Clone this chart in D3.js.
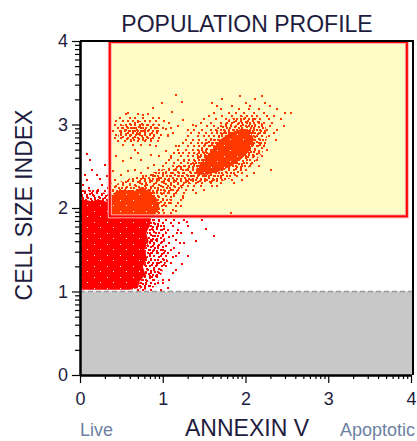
<!DOCTYPE html>
<html><head><meta charset="utf-8">
<script src="https://cdn.jsdelivr.net/npm/d3@7"></script>
<style>body{margin:0;background:#fff}svg{display:block;font-family:Arial,"Liberation Sans",sans-serif}</style>
</head><body><svg id="chart" width="417" height="441"></svg>
<script>
// axis ticks (decades, log minor ticks)
var xTicks = [0,1,2,3,4];
var yTicks = [0,1,2,3,4];
var minorSteps = [2,3,4,5,6,7,8,9];

// gate region and negative region
var gate = {x0:0.36, x1:3.95, y0:1.9, y1:4};
var cutoff = 1;

// dense cores (data units)
var liveCore = [[0.01,1.02],[0.01,2.06],[0.06,2.10],[0.14,2.08],[0.24,2.10],[0.34,2.07],[0.40,1.98],[0.50,1.94],[0.62,1.91],[0.75,1.90],[0.86,1.87],[0.84,1.78],[0.80,1.70],[0.83,1.60],[0.78,1.50],[0.81,1.40],[0.76,1.30],[0.79,1.20],[0.72,1.12],[0.70,1.04],[0.60,1.02]];
var bandCore = [[0.38,1.92],[0.38,2.14],[0.44,2.20],[0.54,2.22],[0.64,2.19],[0.74,2.25],[0.84,2.21],[0.92,2.12],[0.96,2.00],[0.90,1.92]];
var apoCore = [[1.40,2.46],[1.50,2.58],[1.60,2.70],[1.70,2.82],[1.82,2.90],[1.96,2.95],[2.06,2.92],[2.10,2.82],[2.04,2.68],[1.94,2.58],[1.82,2.50],[1.68,2.44],[1.54,2.40],[1.42,2.40]];

// medium-density areas around the cores (data units)
var apoHalo = [[1.20,2.36],[1.30,2.50],[1.42,2.66],[1.54,2.82],[1.66,2.96],[1.80,3.06],[1.96,3.10],[2.12,3.08],[2.24,2.98],[2.26,2.84],[2.20,2.66],[2.08,2.52],[1.94,2.42],[1.78,2.34],[1.60,2.30],[1.42,2.28],[1.28,2.30]];
var bandHalo = [[0.38,1.92],[0.38,2.24],[0.50,2.32],[0.66,2.37],[0.84,2.41],[1.00,2.46],[1.16,2.50],[1.30,2.52],[1.40,2.44],[1.36,2.32],[1.20,2.22],[1.08,2.10],[1.00,1.96],[0.94,1.92]];
var upperHalo = [[0.46,2.86],[0.50,2.98],[0.62,3.04],[0.78,3.04],[0.92,3.00],[0.98,2.90],[0.88,2.82],[0.70,2.80],[0.54,2.82]];
var liveHalo = [[0.84,1.88],[0.96,1.86],[1.04,1.74],[1.02,1.56],[1.06,1.40],[0.98,1.20],[0.92,1.06],[0.80,1.02],[0.70,1.04],[0.72,1.12],[0.79,1.20],[0.76,1.30],[0.81,1.40],[0.78,1.50],[0.83,1.60],[0.80,1.70],[0.84,1.78]];
var liveTopHalo = [[0.01,2.04],[0.01,2.20],[0.10,2.22],[0.24,2.21],[0.34,2.16],[0.36,2.06],[0.20,2.06]];

// events listed row by row: [y, [x, x, ...]]
var liveRows = [
  [2.20,[0.04,0.12,0.22,0.30]],[2.16,[0.02,0.08,0.16,0.26,0.34]],[2.12,[0.04,0.10,0.18,0.24,0.30]],[2.08,[0.02,0.06,0.14,0.20,0.28,0.34]],
  [1.86,[0.88,0.96,1.04,1.14,1.26]],[1.82,[0.90,1.00,1.10,1.20]],[1.78,[0.86,0.94,1.02,1.12,1.30]],[1.74,[0.88,0.98,1.06,1.18]],
  [1.70,[0.84,0.92,1.04,1.22]],[1.66,[0.88,0.94,1.00,1.12]],[1.62,[0.86,0.92,1.02,1.16]],[1.58,[0.84,0.90,0.98,1.08,1.26]],
  [1.54,[0.82,0.88,0.94,1.04]],[1.50,[0.84,0.90,1.00,1.10]],[1.46,[0.82,0.86,0.94,1.06,1.20]],[1.42,[0.84,0.90,0.98,1.16]],
  [1.38,[0.80,0.86,0.94,1.02]],[1.34,[0.82,0.88,0.96,1.10]],[1.30,[0.80,0.84,0.92,1.04]],[1.26,[0.82,0.90,0.98]],
  [1.22,[0.80,0.86,0.96,1.12]],[1.18,[0.78,0.84,0.92]],[1.14,[0.76,0.80,0.88,1.00]],[1.10,[0.74,0.80,0.86,0.94]],
  [1.06,[0.72,0.78,0.84]],[1.02,[0.70,0.76,0.86,0.98]]];
var apoRows = [
  [3.34,[1.93,2.20]],[3.30,[1.72,2.12]],[3.26,[1.60,2.00,2.24]],[3.22,[1.66,1.84,2.05,2.30]],[3.18,[1.70,1.92,2.04,2.16,2.38]],
  [3.14,[1.62,1.80,1.88,1.98,2.10,2.22,2.48,2.55]],[3.10,[1.56,1.72,1.84,1.94,2.02,2.08,2.14,2.26,2.35]],
  [3.06,[1.50,1.64,1.76,1.86,1.90,1.98,2.04,2.12,2.18,2.28,2.43]],[3.02,[1.46,1.58,1.70,1.78,1.84,1.92,1.96,2.02,2.06,2.10,2.16,2.22,2.32]],
  [2.98,[1.40,1.54,1.62,1.70,1.76,1.82,1.88,1.94,2.00,2.04,2.08,2.12,2.20,2.30,2.46]],
  [2.94,[1.38,1.48,1.58,1.64,1.70,1.74,1.80,1.86,1.90,1.96,2.02,2.06,2.10,2.14,2.18,2.26,2.38]],
  [2.90,[1.34,1.44,1.52,1.60,1.66,1.70,1.76,1.82,1.88,1.92,1.98,2.04,2.08,2.12,2.16,2.22,2.34]],
  [2.86,[1.30,1.42,1.50,1.56,1.62,1.68,1.72,1.78,1.84,1.90,1.94,2.00,2.06,2.10,2.14,2.20,2.28]],
  [2.82,[1.28,1.36,1.44,1.52,1.58,1.62,1.68,1.74,1.80,1.84,1.90,1.96,2.02,2.06,2.12,2.18,2.37]],
  [2.78,[1.24,1.34,1.42,1.48,1.54,1.60,1.64,1.70,1.76,1.82,1.88,1.92,1.98,2.04,2.10,2.16,2.24]],
  [2.74,[1.20,1.30,1.38,1.44,1.50,1.56,1.62,1.66,1.72,1.78,1.84,1.90,1.96,2.02,2.08,2.14,2.22]],
  [2.70,[1.18,1.28,1.36,1.42,1.48,1.52,1.58,1.64,1.70,1.74,1.80,1.86,1.92,1.98,2.06,2.12,2.26]],
  [2.66,[1.14,1.24,1.32,1.38,1.44,1.50,1.54,1.60,1.66,1.72,1.78,1.84,1.90,1.96,2.04,2.16]],
  [2.62,[1.10,1.22,1.30,1.36,1.42,1.46,1.52,1.58,1.64,1.70,1.76,1.82,1.88,1.94,2.00,2.10,2.20]],
  [2.58,[1.08,1.18,1.26,1.32,1.38,1.44,1.50,1.56,1.60,1.66,1.72,1.78,1.84,1.92,2.02,2.14]],
  [2.54,[1.04,1.14,1.22,1.30,1.36,1.40,1.46,1.52,1.58,1.64,1.70,1.76,1.82,1.90,1.98,2.08]],
  [2.50,[1.00,1.12,1.20,1.26,1.32,1.38,1.44,1.50,1.56,1.62,1.68,1.74,1.80,1.88,1.96,2.06,2.16]],
  [2.46,[0.96,1.08,1.16,1.24,1.30,1.36,1.42,1.48,1.54,1.60,1.66,1.72,1.80,1.86,1.94,2.00,2.31]],
  [2.42,[0.92,1.04,1.12,1.20,1.26,1.34,1.40,1.46,1.52,1.58,1.64,1.72,1.78,1.86,1.96,2.10]],
  [2.38,[0.88,1.00,1.10,1.18,1.24,1.30,1.36,1.42,1.50,1.56,1.62,1.70,1.78,1.90,2.02]],
  [2.34,[0.84,0.96,1.06,1.14,1.22,1.28,1.34,1.40,1.46,1.54,1.62,1.72,1.84,1.96]],
  [2.30,[0.80,0.92,1.02,1.10,1.18,1.26,1.32,1.40,1.48,1.58,1.70,1.86]],
  [2.26,[0.78,0.88,0.98,1.06,1.14,1.22,1.30,1.38,1.46,1.60,1.66]],
  [2.22,[0.74,0.84,0.94,1.02,1.10,1.18,1.28,1.36,1.50]],
  [2.18,[0.70,0.80,0.90,0.98,1.06,1.16,1.26,1.40]],
  [2.14,[0.64,0.76,0.86,0.94,1.04,1.14,1.24]],
  [2.10,[0.58,0.70,0.80,0.90,1.00,1.10,1.22]],
  [2.06,[0.52,0.64,0.76,0.86,0.96,1.08,1.18]],
  [2.02,[0.46,0.58,0.70,0.82,0.94,1.04,1.16]],
  [1.98,[0.42,0.52,0.64,0.76,0.88,1.00,1.12]],
  [1.94,[0.40,0.48,0.58,0.70,0.82,0.96,1.10,1.83]]];
var upperRows = [
  [3.12,[0.56,0.70,0.82]],[3.08,[0.48,0.60,0.66,0.76,0.88,0.95]],[3.04,[0.44,0.52,0.58,0.64,0.70,0.78,0.84,0.92,1.02]],
  [3.00,[0.42,0.50,0.56,0.62,0.66,0.72,0.76,0.82,0.88,0.96]],[2.96,[0.46,0.52,0.58,0.64,0.68,0.74,0.80,0.86,0.92,1.00,1.10]],
  [2.92,[0.40,0.48,0.54,0.60,0.66,0.70,0.76,0.82,0.88,0.94]],[2.88,[0.44,0.50,0.56,0.62,0.68,0.72,0.78,0.84,0.90,0.98,1.06]],
  [2.84,[0.42,0.50,0.58,0.64,0.70,0.76,0.82,0.88,0.96]],[2.80,[0.46,0.54,0.62,0.70,0.78,0.86,0.94]],[2.76,[0.52,0.64,0.74,0.84]]];

// scattered events
var livePts = [[0.08,2.65],[0.08,2.34],[0.22,2.22],[0.01,2.18],[0.15,2.45],[0.27,2.28],[0.04,2.28],[0.11,2.24],[0.34,2.24],[0.24,2.35],[0.30,2.52],[0.12,2.58],[0.20,2.40],[0.06,2.40],[0.33,2.38],
  [1.08,1.65],[1.17,1.70],[1.21,1.58],[1.05,1.37],[1.12,1.41],[1.30,1.43],[1.23,1.33],[1.08,1.14],[1.00,1.10],[1.14,1.52],[1.40,1.60],[1.52,1.75],[1.35,1.70],[1.62,1.66],[1.16,1.26],[1.06,1.04],[1.48,1.86],[1.29,1.83]];
var bandPts = [[0.40,2.20],[0.44,2.26],[0.48,2.22],[0.52,2.30],[0.56,2.24],[0.60,2.28],[0.64,2.34],[0.68,2.26],[0.72,2.30],[0.76,2.36],[0.80,2.28],[0.84,2.34],[0.88,2.40],[0.92,2.30],[0.96,2.36],[1.00,2.42],[0.42,2.34],[0.50,2.40],[0.58,2.44],[0.66,2.46],[0.74,2.42],[0.82,2.48],[0.90,2.52],[0.46,2.14],[0.54,2.16],[0.62,2.20],[0.70,2.18],[0.78,2.22],[0.86,2.24],[0.38,2.30],[0.40,2.44],
  [0.86,1.94],[0.90,1.98],[0.94,2.04],[1.02,1.94],[1.10,2.06],[1.16,1.96],[1.22,2.02],[1.24,2.12],[0.42,2.14],[0.38,2.16],[0.44,2.00],[0.50,2.04],[0.60,2.02],[0.66,1.98],[0.72,2.04],[0.56,1.96],
  [0.52,2.56],[0.62,2.60],[0.74,2.58],[0.86,2.64],[0.96,2.62],[1.04,2.68],[0.70,2.66],[0.44,2.62],[1.10,2.60],[1.20,2.66],[1.16,2.74],[1.26,2.56]];
var upperPts = [[0.76,3.11],[0.88,3.20],[0.99,3.26],[1.16,3.35],[1.23,3.27],[1.11,3.15],[0.58,3.14],[0.66,2.70],[0.92,2.74],[1.04,2.95],[1.08,3.02],[1.12,2.90],[1.18,2.98],[1.24,3.05],[1.30,2.94],[1.36,3.00],[1.06,2.86],
  [0.63,2.96],[0.69,2.90],[0.73,2.98],[0.61,2.88],[0.79,2.93],[0.55,2.93],[0.67,3.02],[0.75,2.86]];

function flattenRows(rows){
  var out = [];
  rows.forEach(function(r){ r[1].forEach(function(v){ out.push([v, r[0]]); }); });
  return out;
}

var svg = d3.select("#chart");
var x = d3.scaleLinear().domain([0,4]).range([80,411]);
var y = d3.scaleLinear().domain([0,4]).range([375,41]);
var plotRight = 413;
var ink = "#1e1c3e";

// textures: nearly solid for cores, speckled for halos
var specks = [[0,0],[5,1],[9,3],[2,4],[6,6],[10,7],[4,9],[0,10],[8,10],[7,0],[1,7]];
var defs = svg.append("defs");
[["Red","#ff0000"],["Orange","#ff3800"]].forEach(function(p){
  var pat = defs.append("pattern").attr("id", "grain" + p[0]).attr("patternUnits", "userSpaceOnUse")
    .attr("width", 13).attr("height", 11);
  pat.append("rect").attr("width", 13).attr("height", 11).attr("fill", p[1]);
  pat.append("rect").attr("x", 3).attr("y", 2).attr("width", 1).attr("height", 1).attr("fill", "#fff");
  pat.append("rect").attr("x", 9).attr("y", 7).attr("width", 1).attr("height", 1).attr("fill", "#fff");
  var sp = defs.append("pattern").attr("id", "speck" + p[0]).attr("patternUnits", "userSpaceOnUse")
    .attr("width", 12).attr("height", 12);
  sp.selectAll("rect").data(specks).enter().append("rect")
    .attr("x", function(d){ return d[0]; }).attr("y", function(d){ return d[1]; })
    .attr("width", 2).attr("height", 2).attr("fill", p[1]);
});

// gray negative zone
svg.append("rect")
  .attr("x", x(0)).attr("y", y(cutoff))
  .attr("width", plotRight - x(0)).attr("height", y(0) - y(cutoff))
  .attr("fill", "#c8c8c8");
svg.append("line")
  .attr("x1", x(0)).attr("x2", plotRight)
  .attr("y1", y(cutoff)).attr("y2", y(cutoff))
  .attr("stroke", "#999").attr("stroke-width", 1.5)
  .attr("stroke-dasharray", "5,3");

// gate fill
svg.append("rect")
  .attr("x", x(gate.x0)).attr("y", y(gate.y1))
  .attr("width", x(gate.x1) - x(gate.x0)).attr("height", y(gate.y0) - y(gate.y1))
  .attr("fill", "#fffcc8");

svg.append("clipPath").attr("id", "gateClip")
  .append("rect")
  .attr("x", x(gate.x0)).attr("y", y(gate.y1))
  .attr("width", x(gate.x1) - x(gate.x0)).attr("height", y(gate.y0) - y(gate.y1));

var allPts = flattenRows(liveRows).concat(flattenRows(apoRows), flattenRows(upperRows), livePts, bandPts, upperPts);
var line = d3.line().x(function(d){ return x(d[0]); }).y(function(d){ return y(d[1]); }).curve(d3.curveLinearClosed);

function drawMarks(g, color, key){
  g.selectAll("path.halo")
    .data([apoHalo, bandHalo, upperHalo, liveHalo, liveTopHalo])
    .enter().append("path").attr("class", "halo")
    .attr("d", line)
    .attr("fill", "url(#speck" + key + ")");
  g.selectAll("path.core")
    .data([liveCore, bandCore, apoCore])
    .enter().append("path").attr("class", "core")
    .attr("d", line)
    .attr("fill", "url(#grain" + key + ")");
  g.selectAll("rect")
    .data(allPts)
    .enter().append("rect")
    .attr("x", function(d){ return Math.round(x(d[0])) - 1; })
    .attr("y", function(d){ return Math.round(y(d[1])) - 1; })
    .attr("width", 2).attr("height", 2)
    .attr("fill", color);
}
drawMarks(svg.append("g"), "#ff0000", "Red");
// events inside the gate are drawn orange
drawMarks(svg.append("g").attr("clip-path", "url(#gateClip)"), "#ff3800", "Orange");

// gate outline
svg.append("rect")
  .attr("x", x(gate.x0)).attr("y", y(gate.y1) + 1)
  .attr("width", x(gate.x1) - x(gate.x0)).attr("height", y(gate.y0) - y(gate.y1) - 1)
  .attr("fill", "none").attr("stroke", "#ffb0b0").attr("stroke-width", 4);
svg.append("rect")
  .attr("x", x(gate.x0)).attr("y", y(gate.y1) + 1)
  .attr("width", x(gate.x1) - x(gate.x0)).attr("height", y(gate.y0) - y(gate.y1) - 1)
  .attr("fill", "none").attr("stroke", "#ff0000").attr("stroke-width", 2);

// frame top/right
svg.append("path")
  .attr("d", "M" + x(0) + "," + y(4) + "H" + plotRight + "V" + y(0))
  .attr("fill", "none").attr("stroke", "#000").attr("stroke-width", 2);

var minors = [];
for (var d = 0; d < 4; d++) minorSteps.forEach(function(k){ minors.push(d + Math.log10(k)); });

function styleAxis(g){
  g.select(".domain").attr("stroke", "#000").attr("stroke-width", 2);
  g.selectAll(".tick line").attr("stroke", "#000").attr("stroke-width", 1.2);
  g.selectAll(".tick text").attr("fill", ink).style("font-size", "18px").style("font-family", "Arial, 'Liberation Sans', sans-serif");
}

// y axis
svg.append("g").attr("transform", "translate(" + x(0) + ",0)")
  .call(d3.axisLeft(y).tickValues(minors).tickSize(5).tickSizeOuter(0).tickFormat(""))
  .call(styleAxis);
svg.append("g").attr("transform", "translate(" + x(0) + ",0)")
  .call(d3.axisLeft(y).tickValues(yTicks).tickSize(8).tickSizeOuter(0).tickPadding(4).tickFormat(d3.format("d")))
  .call(styleAxis);

// x axis
svg.append("g").attr("transform", "translate(0," + y(0) + ")")
  .call(d3.axisBottom(x).tickValues(minors).tickSize(4).tickSizeOuter(0).tickFormat(""))
  .call(styleAxis);
svg.append("g").attr("transform", "translate(0," + y(0) + ")")
  .call(d3.axisBottom(x).tickValues(xTicks).tickSize(8).tickSizeOuter(0).tickPadding(9).tickFormat(d3.format("d")))
  .call(styleAxis);

// labels
svg.append("text").attr("x", 247).attr("y", 32)
  .attr("text-anchor", "middle").attr("fill", ink).style("font-size", "23px")
  .text("POPULATION PROFILE");
svg.append("text").attr("transform", "translate(32,205) rotate(-90)")
  .attr("text-anchor", "middle").attr("fill", ink).style("font-size", "23px")
  .text("CELL SIZE INDEX");
svg.append("text").attr("x", 247).attr("y", 436)
  .attr("text-anchor", "middle").attr("fill", ink).style("font-size", "23px")
  .text("ANNEXIN V");
svg.append("text").attr("x", 80).attr("y", 436)
  .attr("fill", "#6d7fa3").style("font-size", "18px")
  .text("Live");
svg.append("text").attr("x", 415).attr("y", 436)
  .attr("text-anchor", "end").attr("fill", "#6d7fa3").style("font-size", "18px")
  .text("Apoptotic");
</script></body></html>
